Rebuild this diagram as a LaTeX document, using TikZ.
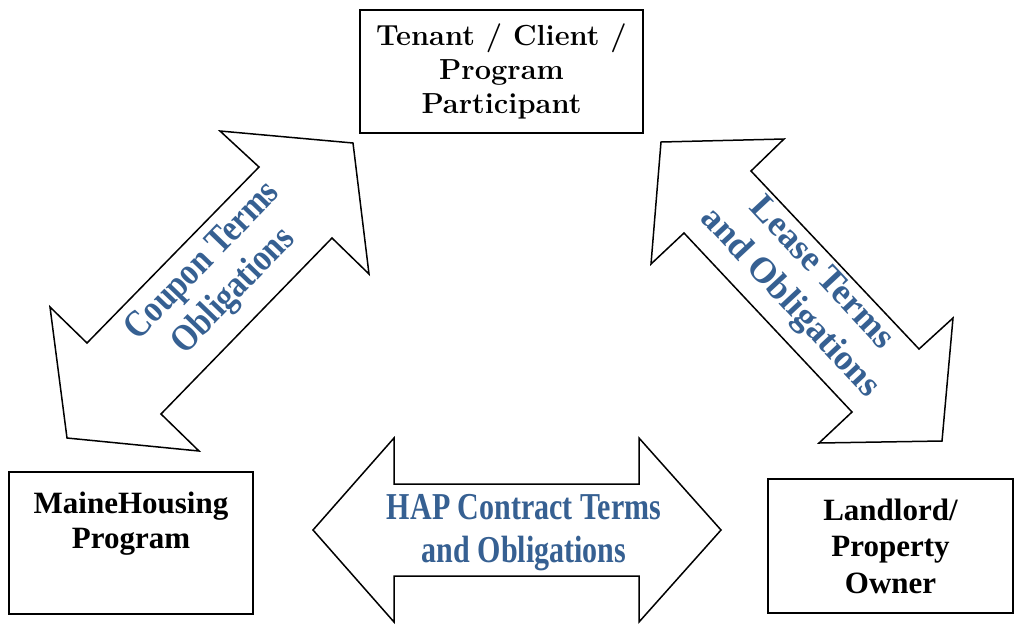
\documentclass[tikz,border=0pt]{standalone}
\usepackage{fontspec}
\usepackage{tikz}
\usetikzlibrary{positioning,calc}
\newfontfamily\boxfont{Liberation Serif}
\newfontfamily\termfont{Liberation Serif}
\definecolor{termblue}{RGB}{54,96,146}
\tikzset{
	party/.style={draw, line width=1.5pt, align=center, inner sep=0pt},
	terms/.style={text=termblue, align=center},
	blockarrow/.style={draw, line width=1.5pt, fill=white, line join=miter}
}
\newcommand{\termsize}[2]{\termfont\bfseries\addfontfeatures{FakeStretch=#1}\fontsize{#2}{43}\selectfont}

\begin{document}
\begin{tikzpicture}[x=1pt, y=-1pt]
	\useasboundingbox (0,0) rectangle (1016,625);
	% the three double arrows
	\draw[blockarrow] (220,131) -- (353,143) -- (369,274) -- (332,238) -- (161,414) -- (199,451)
		-- (67,438) -- (50,307) -- (87,343) -- (259,167) -- cycle;
	\draw[blockarrow] (661,142) -- (784,139) -- (751,171) -- (919,349) -- (953,318) -- (942,441)
		-- (819,443) -- (852,412) -- (684,233) -- (651,264) -- cycle;
	\draw[blockarrow] (313,530) -- (394,438) -- (394,484) -- (639,484) -- (639,438) -- (721,530)
		-- (639,622) -- (639,576) -- (394,576) -- (394,622) -- cycle;
	% parties
	\node[party, minimum width=283pt, minimum height=123pt, font=\bfseries\fontsize{29}{34}\selectfont]
		(tenant) at (501.5,71.5) {Tenant / Client /\\Program\\Participant};
	\node[party, minimum width=244pt, minimum height=142pt, font=\boxfont\bfseries\fontsize{31}{35}\selectfont]
		(maine) at (131,543) {MaineHousing\\Program\\\strut};
	\node[party, minimum width=245pt, minimum height=134pt, font=\boxfont\bfseries\fontsize{31}{36.5}\selectfont]
		(landlord) at (890.5,546) {Landlord/\\Property\\Owner};
	% terms on the arrows
	\node[terms, rotate=46, font=\termsize{0.85}{38}] (coupon) at (219,277) {Coupon Terms\\Obligations};
	\node[terms, rotate=-47, font=\termsize{1}{36}] (lease) at (805,289) {Lease Terms\\and Obligations};
	\node[terms, font=\termsize{0.79}{38}] (hap) at (524,533) {HAP Contract Terms\\and Obligations};
\end{tikzpicture}
\end{document}
